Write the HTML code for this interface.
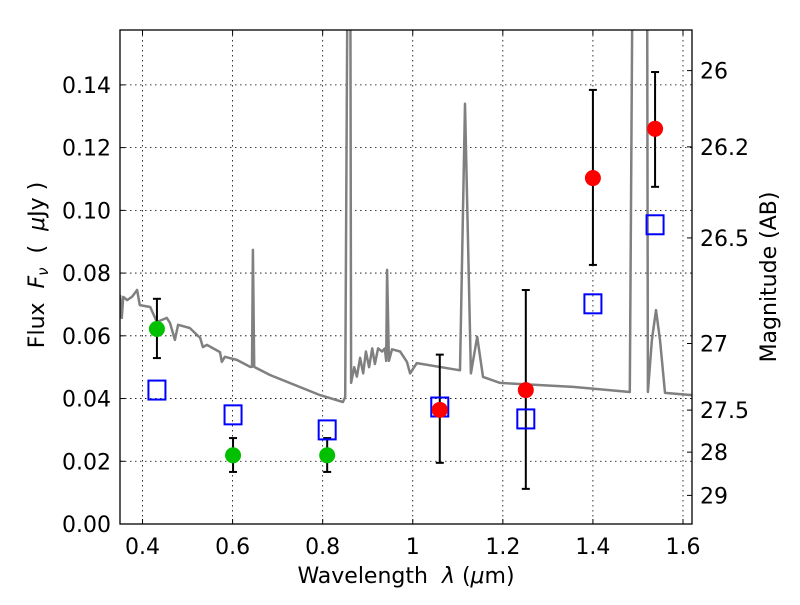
<!DOCTYPE html>
<html><head><meta charset="utf-8"><style>
html,body{margin:0;padding:0;background:#fff;}
svg text{font-family:"DejaVu Sans","Liberation Sans",sans-serif;}
.pre{white-space:pre;}
</style></head><body>
<svg id="chart" width="800" height="600" xmlns="http://www.w3.org/2000/svg">
<defs><clipPath id="clip"><rect x="120" y="30" width="572" height="494"/></clipPath></defs>
<rect x="0" y="0" width="800" height="600" fill="#fff"/>
<g id="grid"></g>
<g id="marks" clip-path="url(#clip)"></g>
<rect x="120" y="30" width="572" height="494" fill="none" stroke="#000" stroke-width="1.3"/>
<g id="axes"></g>
<text class="pre" x="406" y="583" font-size="22" text-anchor="middle">Wavelength  <tspan font-style="italic">λ</tspan> (<tspan font-style="italic">μ</tspan>m)</text>
<text class="pre" transform="translate(44,265) rotate(-90)" font-size="22" text-anchor="middle">Flux  <tspan font-style="italic">F</tspan><tspan font-style="italic" font-size="15" dy="4">ν</tspan><tspan dy="-4">  (  </tspan><tspan font-style="italic">μ</tspan>Jy )</text>
<text transform="translate(776,277) rotate(-90)" font-size="22" text-anchor="middle">Magnitude (AB)</text>
</svg>
<script>
const xTicks=[0.4,0.6,0.8,1.0,1.2,1.4,1.6];
const xTickLabels=["0.4","0.6","0.8","1","1.2","1.4","1.6"];
const yTicks=[0,0.02,0.04,0.06,0.08,0.10,0.12,0.14];
const yTickLabels=["0.00","0.02","0.04","0.06","0.08","0.10","0.12","0.14"];
const magTicks=[26,26.2,26.5,27,27.5,28,29];
const magTickLabels=["26","26.2","26.5","27","27.5","28","29"];
const specWave=[0.350,0.354,0.357,0.366,0.377,0.388,0.394,0.417,0.432,0.454,0.461,0.472,0.479,0.505,0.528,0.534,0.543,0.572,0.576,0.583,0.610,0.639,0.643,0.645,0.648,0.683,0.794,0.845,0.850,0.856,0.861,0.863,0.870,0.876,0.883,0.890,0.896,0.903,0.910,0.916,0.923,0.932,0.938,0.941,0.943,0.947,0.954,0.972,0.987,0.994,1.009,1.105,1.116,1.129,1.143,1.156,1.194,1.356,1.482,1.489,1.520,1.522,1.531,1.540,1.549,1.560,1.620];
const specFlux=[0.0730,0.0657,0.0724,0.0714,0.0725,0.0746,0.0698,0.0692,0.0644,0.0657,0.0641,0.0587,0.0635,0.0625,0.0593,0.0564,0.0571,0.0548,0.0517,0.0533,0.0523,0.0501,0.0501,0.0874,0.0501,0.0475,0.0411,0.0389,0.0405,0.2,0.2,0.045,0.050,0.047,0.053,0.048,0.055,0.050,0.056,0.051,0.056,0.055,0.056,0.052,0.081,0.052,0.0557,0.055,0.0517,0.048,0.0513,0.049,0.134,0.048,0.0597,0.0469,0.045,0.0437,0.0421,0.2,0.2,0.0421,0.0587,0.0682,0.0587,0.0418,0.0411];
const greenWave=[0.432,0.601,0.810];
const greenFlux=[0.0622,0.0219,0.0219];
const greenErrHi=[0.0718,0.0274,0.0274];
const greenErrLo=[0.0529,0.0166,0.0166];
const redWave=[1.060,1.251,1.400,1.538];
const redFlux=[0.0364,0.0427,0.1103,0.126];
const redErrHi=[0.054,0.0746,0.1384,0.1441];
const redErrLo=[0.0195,0.0112,0.0826,0.1075];
const modelWave=[0.432,0.601,0.810,1.060,1.251,1.400,1.538];
const modelFlux=[0.0427,0.0348,0.030,0.0373,0.0335,0.0702,0.0954];

const X0=120,X1=692,Y0=524,Y1=30,XMIN=0.35,XMAX=1.62,YMIN=0,YMAX=0.1575;
const sx=v=>X0+(v-XMIN)/(XMAX-XMIN)*(X1-X0);
const sy=v=>Y0-(v-YMIN)/(YMAX-YMIN)*(Y0-Y1);
const magToFlux=m=>3631e6*Math.pow(10,-0.4*m);
const NS="http://www.w3.org/2000/svg";
function mk(tag,attrs,parent){const e=document.createElementNS(NS,tag);for(const k in attrs)e.setAttribute(k,attrs[k]);parent.appendChild(e);return e;}
const grid=document.getElementById('grid'),marks=document.getElementById('marks'),axes=document.getElementById('axes');

xTicks.forEach((t,i)=>{const x=sx(t);
 const g=mk('line',{x1:x,x2:x,y1:Y1,y2:Y0,stroke:'#000','stroke-width':0.8,'stroke-dasharray':'1.5,3.5'},grid);
 
 
 mk('line',{x1:x,x2:x,y1:Y0,y2:Y0-5,stroke:'#000'},axes);
 mk('line',{x1:x,x2:x,y1:Y1,y2:Y1+5,stroke:'#000'},axes);
 const l=mk('text',{x:x,y:Y0+30,'font-size':22,'text-anchor':'middle'},axes);l.textContent=xTickLabels[i];
 
 
});
yTicks.forEach((t,i)=>{const y=sy(t);
 const g=mk('line',{x1:X0,x2:X1,y1:y,y2:y,stroke:'#000','stroke-width':0.8,'stroke-dasharray':'1.5,3.5'},grid);
 
 
 mk('line',{x1:X0,x2:X0+5,y1:y,y2:y,stroke:'#000'},axes);
 const l=mk('text',{x:X0-9,y:y+8,'font-size':22,'text-anchor':'end'},axes);l.textContent=yTickLabels[i];
 
 
});
magTicks.forEach((m,i)=>{const y=sy(magToFlux(m));
 mk('line',{x1:X1,x2:X1-5,y1:y,y2:y,stroke:'#000'},axes);
 const l=mk('text',{x:X1+8,y:y+8,'font-size':22,'text-anchor':'start'},axes);l.textContent=magTickLabels[i];
 
 
});

const pts=specWave.map((w,i)=>sx(w).toFixed(1)+','+sy(specFlux[i]).toFixed(1)).join(' ');
const sp=mk('polyline',{points:pts,fill:'none',stroke:'#808080','stroke-width':2.5,'stroke-linejoin':'round'},marks);



function errbar(w,lo,hi){const x=sx(w);
 const e=mk('g',{},marks);
 
 
 mk('line',{x1:x,x2:x,y1:sy(lo),y2:sy(hi),stroke:'#000','stroke-width':2},e);
 mk('line',{x1:x-4,x2:x+4,y1:sy(lo),y2:sy(lo),stroke:'#000','stroke-width':2},e);
 mk('line',{x1:x-4,x2:x+4,y1:sy(hi),y2:sy(hi),stroke:'#000','stroke-width':2},e);}
greenWave.forEach((w,i)=>errbar(w,greenErrLo[i],greenErrHi[i]));
redWave.forEach((w,i)=>errbar(w,redErrLo[i],redErrHi[i]));
modelWave.forEach((w,i)=>{
 const r=mk('rect',{x:sx(w)-8.5,y:sy(modelFlux[i])-9.5,width:17,height:19,fill:'none',stroke:'#0000ff','stroke-width':2},marks);
 
 
});
greenWave.forEach((w,i)=>{
 const c=mk('circle',{cx:sx(w),cy:sy(greenFlux[i]),r:8,fill:'#00c000'},marks);
 
 
});
redWave.forEach((w,i)=>{
 const c=mk('circle',{cx:sx(w),cy:sy(redFlux[i]),r:8,fill:'#ff0000'},marks);
 
 
});
</script>
</body></html>
